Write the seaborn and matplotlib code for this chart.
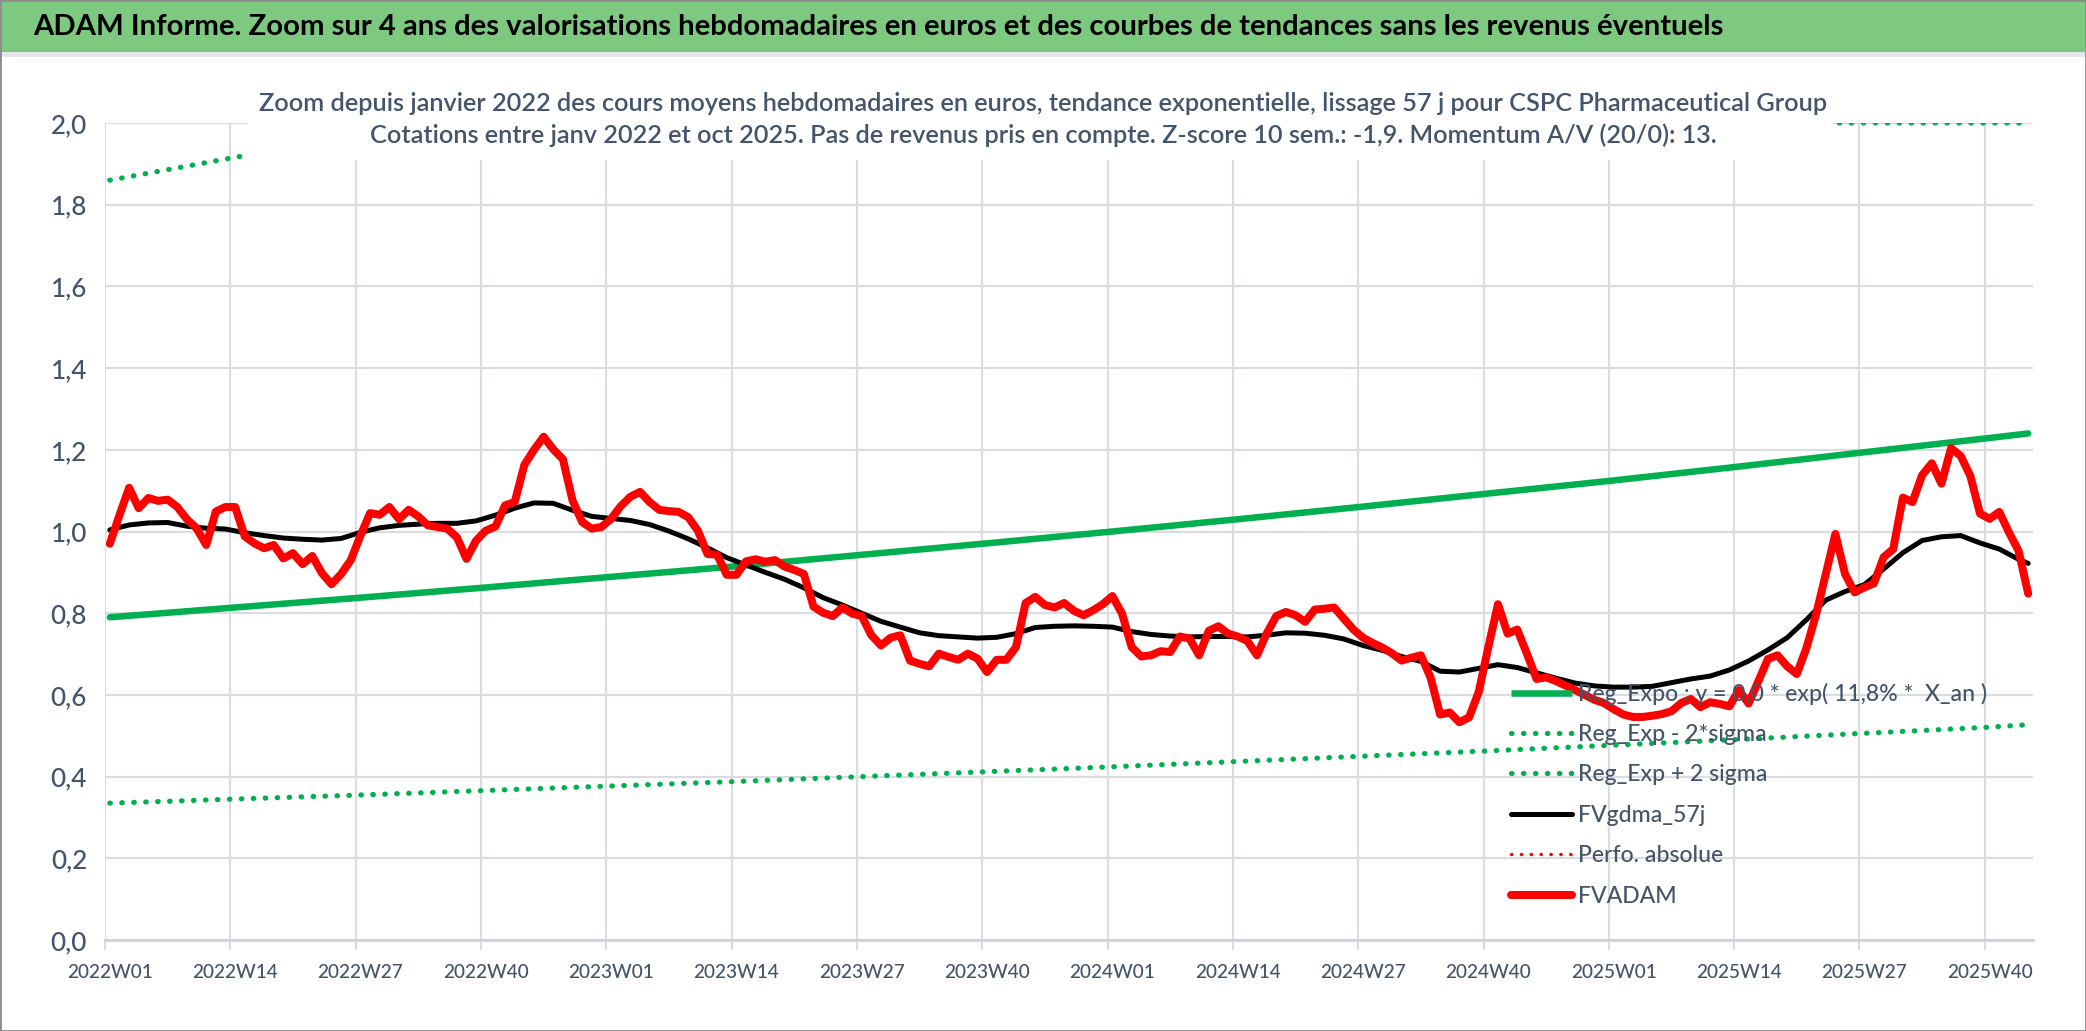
import numpy as np
import pandas as pd
import matplotlib
matplotlib.use("Agg")
import matplotlib.pyplot as plt
import seaborn as sns
from matplotlib.lines import Line2D
from matplotlib.patches import Rectangle

# ---------------- data ----------------
weeks = [f"{y}W{w:02d}" for y in (2022, 2023, 2024, 2025) for w in range(1, 53)][:200]

tick_labels = ["2022W01", "2022W14", "2022W27", "2022W40", "2023W01", "2023W14",
               "2023W27", "2023W40", "2024W01", "2024W14", "2024W27", "2024W40",
               "2025W01", "2025W14", "2025W27", "2025W40"]
y_ticks = [0.0, 0.2, 0.4, 0.6, 0.8, 1.0, 1.2, 1.4, 1.6, 1.8, 2.0]
y_tick_labels = ["0,0", "0,2", "0,4", "0,6", "0,8", "1,0", "1,2", "1,4", "1,6", "1,8", "2,0"]

# FVADAM (weekly)
fv_adam = [
    0.970, 1.040, 1.107, 1.057, 1.082, 1.075, 1.078, 1.060, 1.030, 1.008,
    0.967, 1.049, 1.060, 1.060, 0.988, 0.971, 0.959, 0.967, 0.934, 0.947,
    0.920, 0.940, 0.898, 0.871, 0.896, 0.930, 0.990, 1.045, 1.041, 1.060,
    1.030, 1.053, 1.037, 1.015, 1.011, 1.007, 0.986, 0.933, 0.978, 1.002,
    1.012, 1.064, 1.072, 1.163, 1.200, 1.232, 1.201, 1.177, 1.076, 1.023,
    1.007, 1.011, 1.031, 1.062, 1.085, 1.097, 1.072, 1.053, 1.050, 1.048,
    1.035, 1.002, 0.945, 0.943, 0.894, 0.894, 0.927, 0.932, 0.926, 0.930,
    0.914, 0.906, 0.896, 0.816, 0.801, 0.793, 0.814, 0.799, 0.793, 0.746,
    0.721, 0.740, 0.746, 0.684, 0.676, 0.670, 0.701, 0.693, 0.686, 0.701,
    0.689, 0.656, 0.686, 0.686, 0.717, 0.825, 0.840, 0.820, 0.814, 0.825,
    0.806, 0.795, 0.807, 0.822, 0.842, 0.799, 0.717, 0.694, 0.697, 0.707,
    0.705, 0.743, 0.738, 0.697, 0.757, 0.768, 0.750, 0.743, 0.732, 0.697,
    0.750, 0.793, 0.803, 0.795, 0.779, 0.809, 0.811, 0.814, 0.787, 0.760,
    0.740, 0.727, 0.716, 0.702, 0.684, 0.691, 0.697, 0.643, 0.552, 0.557,
    0.533, 0.545, 0.607, 0.717, 0.822, 0.750, 0.760, 0.701, 0.639, 0.643,
    0.634, 0.623, 0.612, 0.600, 0.588, 0.580, 0.565, 0.552, 0.546, 0.546,
    0.549, 0.553, 0.560, 0.580, 0.590, 0.570, 0.582, 0.578, 0.572, 0.612,
    0.579, 0.633, 0.688, 0.697, 0.670, 0.651, 0.715, 0.797, 0.896, 0.994,
    0.896, 0.851, 0.863, 0.873, 0.937, 0.957, 1.083, 1.072, 1.138, 1.167,
    1.117, 1.204, 1.185, 1.136, 1.044, 1.031, 1.048, 0.998, 0.953, 0.848,
]

# FVgdma_57j (read every second week + last week)
gdma_weeks = weeks[::2] + [weeks[-1]]
fv_gdma = [
    1.004, 1.016, 1.021, 1.022, 1.013, 1.008, 1.006, 0.997, 0.990, 0.984,
    0.981, 0.979, 0.983, 0.998, 1.009, 1.015, 1.018, 1.020, 1.020, 1.026,
    1.040, 1.057, 1.070, 1.069, 1.052, 1.037, 1.032, 1.027, 1.017, 1.001,
    0.982, 0.960, 0.936, 0.918, 0.900, 0.883, 0.862, 0.838, 0.820, 0.800,
    0.780, 0.766, 0.752, 0.745, 0.742, 0.739, 0.741, 0.750, 0.765, 0.768,
    0.769, 0.768, 0.766, 0.755, 0.748, 0.744, 0.742, 0.743, 0.743, 0.742,
    0.746, 0.752, 0.751, 0.746, 0.737, 0.721, 0.709, 0.694, 0.682, 0.658,
    0.656, 0.665, 0.674, 0.667, 0.654, 0.641, 0.629, 0.622, 0.619, 0.619,
    0.621, 0.630, 0.639, 0.646, 0.661, 0.683, 0.710, 0.740, 0.784, 0.832,
    0.853, 0.870, 0.908, 0.948, 0.978, 0.987, 0.990, 0.972, 0.957, 0.932,
    0.922,
]

# exponential regression and +/- 2 sigma bands (read at the labelled weeks + last week)
reg_weeks = tick_labels + ["2025W44"]
reg_expo = [0.790, 0.814, 0.838, 0.863, 0.889, 0.915, 0.943, 0.971, 1.000,
            1.030, 1.061, 1.093, 1.125, 1.159, 1.194, 1.229, 1.240]
reg_low = [0.335, 0.345, 0.355, 0.366, 0.377, 0.388, 0.400, 0.412, 0.424,
           0.437, 0.450, 0.463, 0.477, 0.491, 0.506, 0.521, 0.527]
reg_high = [1.860, 1.916, 1.973, 2.032, 2.093, 2.154, 2.220, 2.286, 2.354,
            2.425, 2.498, 2.573, 2.648, 2.728, 2.811, 2.893, 2.919]

legend_labels = ["Reg_Expo : y = 0,0 * exp( 11,8% *  X_an )", "Reg_Exp - 2*sigma",
                 "Reg_Exp + 2 sigma", "FVgdma_57j", "Perfo. absolue", "FVADAM"]

title = ("ADAM Informe. Zoom sur 4 ans des valorisations hebdomadaires en euros "
         "et des courbes de tendances sans les revenus éventuels")
subtitle1 = ("Zoom depuis janvier 2022 des cours moyens hebdomadaires en euros, tendance "
             "exponentielle, lissage 57 j pour CSPC Pharmaceutical Group")
subtitle2 = ("Cotations entre janv 2022 et oct 2025. Pas de revenus pris en compte. "
             "Z-score 10 sem.: -1,9. Momentum A/V (20/0): 13.")

# ---------------- style ----------------
W, H, DPI = 2086, 1031, 100
sns.set_theme(style="white")
plt.rcParams["font.family"] = ["Lato", "DejaVu Sans"]

GREEN = "#00B050"
RED = "#FF0000"
TXT = "#44546A"
GRID = "#D9DDE3"

fig = plt.figure(figsize=(W / DPI, H / DPI), dpi=DPI)
fig.patch.set_facecolor("white")
renderer = fig.canvas.get_renderer()


def fit(text, target_px, **kw):
    t = fig.text(0, 0, text, fontsize=20, **kw)
    w = t.get_window_extent(renderer=renderer).width
    t.remove()
    return 20 * target_px / w


def px2pt(p):
    return p * 72 / DPI


L, R, T, B = 105, 2033, 123, 940
ax = fig.add_axes([L / W, (H - B) / H, (R - L) / W, (B - T) / H])
ax.set_facecolor("white")

pos = {w: i for i, w in enumerate(weeks)}
df_adam = pd.DataFrame({"x": [pos[w] for w in weeks], "y": fv_adam})
df_gdma = pd.DataFrame({"x": [pos[w] for w in gdma_weeks], "y": fv_gdma})
df_reg = pd.DataFrame({"x": [pos[w] for w in reg_weeks], "reg": reg_expo,
                       "low": reg_low, "high": np.minimum(reg_high, 2.0)})

dot_kw = dict(linestyle=(0, (0.1, 2.2)), dash_capstyle="round")
sns.lineplot(data=df_reg, x="x", y="reg", ax=ax, color=GREEN, linewidth=px2pt(6.5),
             solid_capstyle="round", zorder=3)
sns.lineplot(data=df_reg, x="x", y="low", ax=ax, color=GREEN, linewidth=px2pt(5.2),
             zorder=3, **dot_kw)
sns.lineplot(data=df_reg, x="x", y="high", ax=ax, color=GREEN, linewidth=px2pt(5.2),
             zorder=3, **dot_kw)
sns.lineplot(data=df_gdma, x="x", y="y", ax=ax, color="black", linewidth=px2pt(5),
             solid_capstyle="round", solid_joinstyle="round", zorder=4)
sns.lineplot(data=df_adam, x="x", y="y", ax=ax, color=RED, linewidth=px2pt(8),
             solid_capstyle="round", solid_joinstyle="round", zorder=5)

ax.set_xlim(-0.5, len(weeks) - 0.5)
ax.set_ylim(0, 2.0)
ax.set_xlabel("")
ax.set_ylabel("")

MED = 500  # medium weight for axis / legend text

# x axis: gridlines between categories, labels centred on categories
ax.set_xticks([pos[t] - 0.5 for t in tick_labels])
ax.set_xticklabels([])
ax.set_xticks([pos[t] for t in tick_labels], minor=True)
xfs = fit("2022W01", 86, weight=MED)
ax.set_xticklabels(tick_labels, minor=True, fontsize=xfs, color=TXT, fontweight=MED)
ax.tick_params(axis="x", which="major", length=7, width=1.5, color=GRID, direction="out",
               bottom=True)
ax.tick_params(axis="x", which="minor", length=0, pad=px2pt(24), bottom=True)

yfs = fit("2,0", 36, weight=MED)
ax.set_yticks(y_ticks)
ax.set_yticklabels(y_tick_labels, fontsize=yfs, color=TXT, fontweight=MED)
ax.tick_params(axis="y", length=0, pad=px2pt(18))

ax.grid(axis="y", color=GRID, linewidth=1.5)
ax.grid(axis="x", which="major", color=GRID, linewidth=1.5)
ax.set_axisbelow(True)
for s in ("top", "right", "left"):
    ax.spines[s].set_visible(False)
ax.spines["bottom"].set_color("#D0D4DA")
ax.spines["bottom"].set_linewidth(2.2)

# legend
lfs = fit(legend_labels[0], 408, weight=MED)
fpx = lfs * DPI / 72
handles = [
    Line2D([0], [0], color=GREEN, lw=px2pt(6.5), solid_capstyle="butt"),
    Line2D([0], [0], color=GREEN, lw=px2pt(5.2), **dot_kw),
    Line2D([0], [0], color=GREEN, lw=px2pt(5.2), **dot_kw),
    Line2D([0], [0], color="black", lw=px2pt(5)),
    Line2D([0], [0], color=RED, lw=px2pt(3.4), linestyle=(0, (0.1, 2.8)),
           dash_capstyle="round"),
    Line2D([0], [0], color=RED, lw=px2pt(8), solid_capstyle="round"),
]
tt = fig.text(0, 0, "Reg_Exp", fontsize=lfs, weight=MED)
th = tt.get_window_extent(renderer=renderer).height
tt.remove()
row = 40.4
leg = ax.legend(handles, legend_labels, loc="upper left",
                bbox_to_anchor=(1511 / W, 1 - (693 - th / 2) / H),
                bbox_transform=fig.transFigure, frameon=False, borderpad=0,
                borderaxespad=0, handlelength=61 / fpx, handletextpad=6 / fpx,
                labelspacing=(row - th) / fpx, prop={"size": lfs, "weight": MED},
                labelcolor=TXT)
leg.set_zorder(8)

# white box behind the chart subtitle (hides the plot underneath, as in the original)
fig.add_artist(Rectangle((248 / W, 1 - 160 / H), (1831 - 248) / W, (160 - 62) / H,
                         transform=fig.transFigure, facecolor="white", edgecolor="none",
                         zorder=5))
SEMI = 600
sfs = fit(subtitle1, 1569, weight=SEMI)
fig.text(0.5, 1 - 103 / H, subtitle1, ha="center", va="center", fontsize=sfs, color=TXT,
         weight=SEMI, zorder=6)
fig.text(0.5, 1 - 135 / H, subtitle2, ha="center", va="center", fontsize=sfs, color=TXT,
         weight=SEMI, zorder=6)

# title band
fig.add_artist(Rectangle((0, 1 - 52 / H), 1, 52 / H, transform=fig.transFigure,
                         facecolor="#7DC97F", edgecolor="none", zorder=5))
fig.add_artist(Rectangle((0, 1 - 57 / H), 1, 5 / H, transform=fig.transFigure,
                         facecolor="#E4E6EA", edgecolor="none", zorder=5))
tfs = fit(title, 1695, weight="bold")
fig.text(33 / W, 1 - 27 / H, title, ha="left", va="center", fontsize=tfs,
         weight="bold", color="black", zorder=6)

# outer frame
fig.add_artist(Rectangle((0, 0), 1, 1, transform=fig.transFigure, fill=False,
                         edgecolor="#8C8C8C", linewidth=2, zorder=7))

fig.savefig("out.png", dpi=DPI, facecolor="white")
